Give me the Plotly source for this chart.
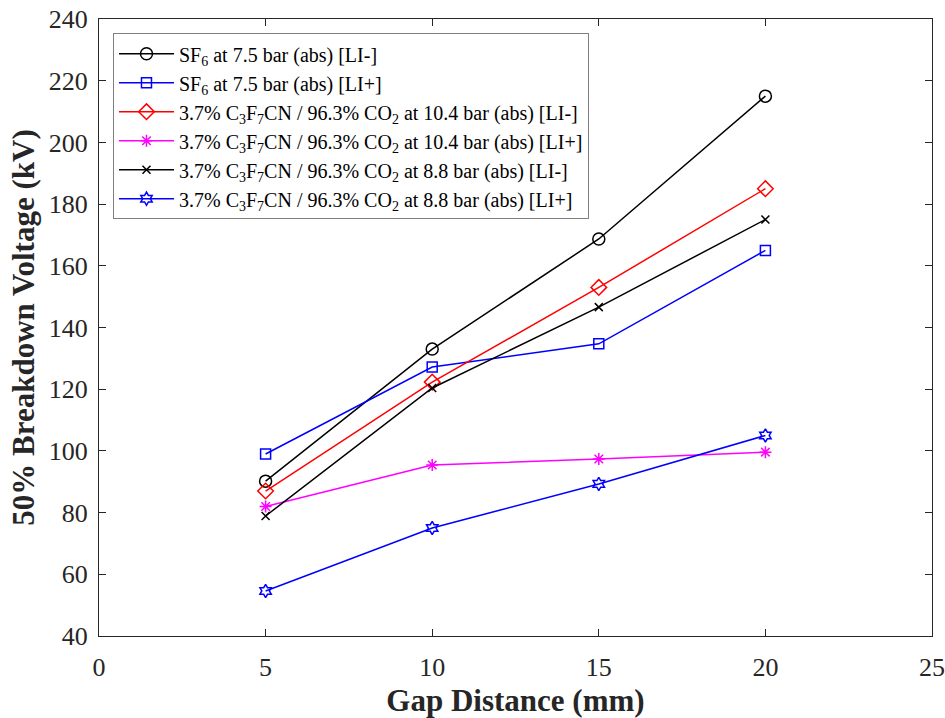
import plotly.graph_objects as go

gap_mm = [5, 10, 15, 20]
sf6_li_neg = [90.2, 133.0, 168.7, 215.0]
sf6_li_pos = [99.0, 127.2, 134.7, 165.0]
mix104_li_neg = [87.0, 122.3, 153.0, 185.0]
mix104_li_pos = [82.0, 95.4, 97.4, 99.6]
mix88_li_neg = [78.9, 120.4, 146.6, 175.0]
mix88_li_pos = [54.6, 75.0, 89.3, 105.0]

names = [
    "SF<sub>6</sub> at 7.5 bar (abs) [LI-]",
    "SF<sub>6</sub> at 7.5 bar (abs) [LI+]",
    "3.7% C<sub>3</sub>F<sub>7</sub>CN / 96.3% CO<sub>2</sub> at 10.4 bar (abs) [LI-]",
    "3.7% C<sub>3</sub>F<sub>7</sub>CN / 96.3% CO<sub>2</sub> at 10.4 bar (abs) [LI+]",
    "3.7% C<sub>3</sub>F<sub>7</sub>CN / 96.3% CO<sub>2</sub> at 8.8 bar (abs) [LI-]",
    "3.7% C<sub>3</sub>F<sub>7</sub>CN / 96.3% CO<sub>2</sub> at 8.8 bar (abs) [LI+]",
]
series = [sf6_li_neg, sf6_li_pos, mix104_li_neg, mix104_li_pos, mix88_li_neg, mix88_li_pos]
colors = ["#000000", "#0000ff", "#ff0000", "#ff00ff", "#000000", "#0000ff"]
symbols = ["circle-open", "square-open", "diamond-open", "asterisk-open", "x-thin-open", "hexagram-open"]
sizes = [12, 10, 12, 10, 8, 10]

fig = go.Figure()
for n, ys, c, s, sz in zip(names, series, colors, symbols, sizes):
    fig.add_trace(go.Scatter(
        x=gap_mm, y=ys, name=n, mode="lines+markers",
        line=dict(color=c, width=1.5),
        marker=dict(symbol=s, size=sz, color=c, line=dict(color=c, width=1.5)),
    ))

axis_common = dict(
    showline=True, linecolor="#262626", linewidth=1, mirror="ticks",
    ticks="inside", ticklen=7, tickcolor="#262626", showgrid=False, zeroline=False,
    automargin=False, ticklabeloverflow="allow",
    tickfont=dict(family="Liberation Serif", size=26, color="#262626"),
)
fig.update_layout(
    width=945, height=718,
    margin=dict(l=99, r=13, t=19, b=82),
    paper_bgcolor="white", plot_bgcolor="white",
    font=dict(family="Liberation Serif", color="#262626"),
    xaxis=dict(range=[0, 25], tickvals=[0, 5, 10, 15, 20, 25], ticklabelstandoff=8,
               title=dict(text="<b>Gap Distance (mm)</b>", font=dict(size=31, family="Liberation Serif"), standoff=8),
               **axis_common),
    yaxis=dict(range=[40, 240], tickvals=list(range(40, 241, 20)), ticklabelstandoff=5,
               title=dict(text="<b>50% Breakdown Voltage (kV)</b>", font=dict(size=31, family="Liberation Serif"), standoff=4),
               **axis_common),
    legend=dict(x=0.0168, y=0.977, xanchor="left", yanchor="top",
                bgcolor="white", bordercolor="#7f7f7f", borderwidth=1,
                font=dict(family="Liberation Serif", size=20, color="#000000"),
                tracegroupgap=0, itemwidth=55),
)
fig.write_html("out.html", config={"displayModeBar": False},
               post_script="document.body.style.margin='0';document.body.style.overflow='hidden';")
